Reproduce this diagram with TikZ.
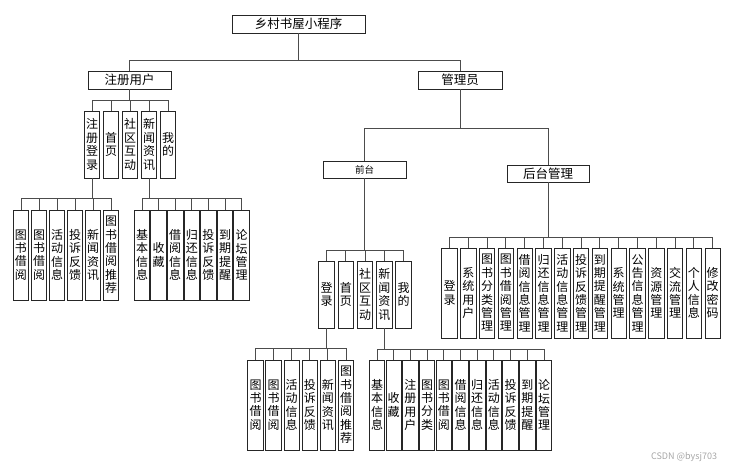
\documentclass[tikz,border=0pt]{standalone}
\usepackage{fontspec}
\newfontfamily\cjk{Noto Sans CJK SC}

\tikzset{
  box/.style={draw=black!85, fill=white, inner sep=0pt, line width=0.9pt},
  hbox/.style={box, minimum height=18pt, font=\cjk\fontsize{12.5}{14}\selectfont},
  vbox/.style={box, minimum width=15.5pt, align=center, font=\cjk\fontsize{12}{13.4}\selectfont},
  link/.style={draw=black!70, line width=0.9pt},
}

\begin{document}
\begin{tikzpicture}[x=1pt,y=-1pt]
\useasboundingbox (0,0) rectangle (742,470);

% top levels
\node[hbox, minimum width=133pt] (app) at (298.5,24) {乡村书屋小程序};
\node[hbox, minimum width=83pt] (user) at (129.5,80) {注册用户};
\node[hbox, minimum width=84pt] (admin) at (460,80) {管理员};
\node[hbox, minimum width=83pt, minimum height=17pt, font=\cjk\fontsize{9.5}{11}\selectfont] (front) at (364.5,169.5) {前台};
\node[hbox, minimum width=82pt, minimum height=17pt] (back) at (548,173.5) {后台管理};

% bus heights
\coordinate (bus0) at (0,60);
\coordinate (busu) at (0,100);
\coordinate (busul) at (0,198);
\coordinate (busun) at (0,198);
\coordinate (busa) at (0,128);
\coordinate (busf) at (0,250);
\coordinate (busb) at (0,237);
\coordinate (busfl) at (0,348);
\coordinate (busfn) at (0,349);

% registered user
\foreach \t [count=\i] in {注\\册\\登\\录, 首\\页, 社\\区\\互\\动, 新\\闻\\资\\讯, 我\\的}
  \node[vbox, minimum height=67pt] (u\i) at ({73+19*\i},144.5) {\t};
\foreach \t [count=\i] in {图\\书\\借\\阅, 图\\书\\借\\阅, 活\\动\\信\\息, 投\\诉\\反\\馈, 新\\闻\\资\\讯, 图\\书\\借\\阅\\推\\荐}
  \node[vbox, minimum height=90pt] (ul\i) at ({3+18*\i},255) {\t};
\foreach \t [count=\i] in {基\\本\\信\\息, 收\\藏, 借\\阅\\信\\息, 归\\还\\信\\息, 投\\诉\\反\\馈, 到\\期\\提\\醒, 论\\坛\\管\\理}
  \node[vbox, minimum height=90pt] (un\i) at ({125.4+16.6*\i},255) {\t};

% front end
\foreach \t [count=\i] in {登\\录, 首\\页, 社\\区\\互\\动, 新\\闻\\资\\讯, 我\\的}
  \node[vbox, minimum height=67pt] (f\i) at ({307.25+19.25*\i},294.5) {\t};
\foreach \t [count=\i] in {图\\书\\借\\阅, 图\\书\\借\\阅, 活\\动\\信\\息, 投\\诉\\反\\馈, 新\\闻\\资\\讯, 图\\书\\借\\阅\\推\\荐}
  \node[vbox, minimum height=90pt] (fl\i) at ({237.4+18.1*\i},405) {\t};
\foreach \t [count=\i] in {基\\本\\信\\息, 收\\藏, 注\\册\\用\\户, 图\\书\\分\\类, 图\\书\\借\\阅, 借\\阅\\信\\息, 归\\还\\信\\息, 活\\动\\信\\息, 投\\诉\\反\\馈, 到\\期\\提\\醒, 论\\坛\\管\\理}
  \node[vbox, minimum height=90pt] (fn\i) at ({360.3+16.7*\i},405) {\t};

% back end
\foreach \t [count=\i] in {登\\录, 系\\统\\用\\户, 图\\书\\分\\类\\管\\理, 图\\书\\借\\阅\\管\\理, 借\\阅\\信\\息\\管\\理, 归\\还\\信\\息\\管\\理, 活\\动\\信\\息\\管\\理, 投\\诉\\反\\馈\\管\\理, 到\\期\\提\\醒\\管\\理, 系\\统\\管\\理, 公\\告\\信\\息\\管\\理, 资\\源\\管\\理, 交\\流\\管\\理, 个\\人\\信\\息, 修\\改\\密\\码}
  \node[vbox, minimum height=90pt] (b\i) at ({430.7+18.8*\i},293) {\t};

% connectors
\draw[link] (app.south) |- (user.north |- bus0) -- (user.north);
\draw[link] (app.south) |- (admin.north |- bus0) -- (admin.north);
\draw[link] (admin.south) |- (front.north |- busa) -- (front.north);
\draw[link] (admin.south) |- (back.north |- busa) -- (back.north);
\foreach \i in {1,...,5} {
  \draw[link] (user.south) |- (u\i.north |- busu) -- (u\i.north);
  \draw[link] (front.south) |- (f\i.north |- busf) -- (f\i.north);
}
\foreach \i in {1,...,6} {
  \draw[link] (u1.south) |- (ul\i.north |- busul) -- (ul\i.north);
  \draw[link] (f1.south) |- (fl\i.north |- busfl) -- (fl\i.north);
}
\foreach \i in {1,...,7}
  \draw[link] (u4.south) |- (un\i.north |- busun) -- (un\i.north);
\foreach \i in {1,...,11}
  \draw[link] (f4.south) |- (fn\i.north |- busfn) -- (fn\i.north);
\foreach \i in {1,...,15}
  \draw[link] (back.south) |- (b\i.north |- busb) -- (b\i.north);

\node[font=\cjk\fontsize{9}{10}\selectfont, text=black!35] (mark) at (684,457) {CSDN @bysj703};
\end{tikzpicture}
\end{document}
